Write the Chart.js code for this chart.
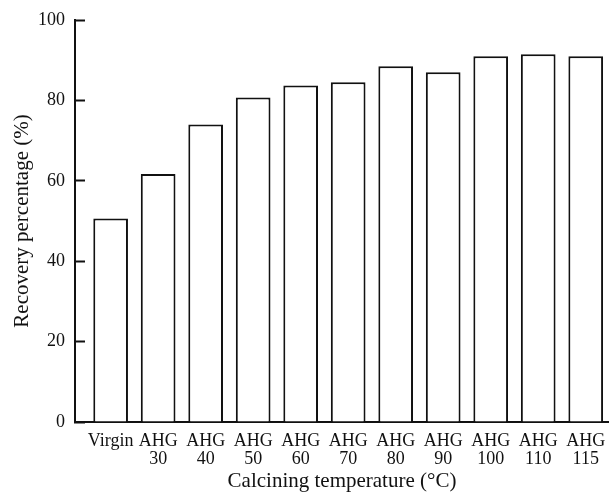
<!DOCTYPE html>
<html>
<head>
<meta charset="utf-8">
<script src="https://cdn.jsdelivr.net/npm/chart.js@4/dist/chart.umd.min.js"></script>
<style>
  html, body { margin: 0; padding: 0; background: #fff; }
  #wrap { width: 609px; height: 494px; }
</style>
</head>
<body>
<div id="wrap"><canvas id="c" width="609" height="494"></canvas></div>
<script>
// Sample groups along the x axis (one label line per array entry)
const categories = [
  ['Virgin'],
  ['AHG', '30'], ['AHG', '40'], ['AHG', '50'], ['AHG', '60'], ['AHG', '70'],
  ['AHG', '80'], ['AHG', '90'], ['AHG', '100'], ['AHG', '110'], ['AHG', '115']
];
// Recovery percentage (%) for each sample
const recovery = [50.6, 61.7, 74.0, 80.7, 83.7, 84.5, 88.5, 87.0, 91.0, 91.5, 91.0];
// Y axis tick values
const yTicks = [0, 20, 40, 60, 80, 100];

const SERIF = '"Liberation Serif", "Times New Roman", serif';
const TICK_FONT = { family: SERIF, size: 18 };
const TITLE_FONT = { family: SERIF, size: 21 };
const INK = '#111';

const points = recovery.map((v, i) => ({ x: i, y: v }));

new Chart(document.getElementById('c'), {
  type: 'bar',
  data: {
    datasets: [{
      data: points,
      backgroundColor: '#fff',
      borderColor: INK,
      borderWidth: 2,
      categoryPercentage: 1,
      barPercentage: 0.73
    }]
  },
  options: {
    responsive: false,
    animation: false,
    layout: { padding: { top: 20, right: 0, left: 0, bottom: 0 } },
    plugins: { legend: { display: false }, tooltip: { enabled: false } },
    scales: {
      x: {
        type: 'linear',
        offset: false,
        min: -0.75,
        max: 10.49,
        afterBuildTicks: (scale) => { scale.ticks = categories.map((_, i) => ({ value: i })); },
        afterFit: (scale) => {
          scale.height = 72;
          scale.paddingLeft = 0;
          scale.paddingRight = 0;
        },
        grid: { display: true, offset: false, drawOnChartArea: false, drawTicks: false },
        border: { display: true, color: INK, width: 2 },
        ticks: {
          autoSkip: false,
          maxRotation: 0,
          padding: 10,
          color: INK,
          font: { ...TICK_FONT, lineHeight: 1.0 },
          callback: (v) => categories[v]
        },
        title: {
          display: true,
          text: 'Calcining temperature (°C)',
          color: INK,
          font: TITLE_FONT,
          padding: { top: 1, bottom: 0 }
        }
      },
      y: {
        min: 0,
        max: 100,
        afterBuildTicks: (scale) => { scale.ticks = yTicks.map(v => ({ value: v })); },
        afterFit: (scale) => {
          scale.width = 75;
          scale.paddingTop = 0;
          scale.paddingBottom = 0;
        },
        grid: {
          drawOnChartArea: false,
          drawTicks: true,
          tickLength: -10,
          tickWidth: 2,
          tickColor: INK
        },
        border: { display: true, color: INK, width: 2 },
        ticks: {
          padding: 20,
          color: INK,
          font: TICK_FONT
        },
        title: {
          display: true,
          text: 'Recovery percentage (%)',
          color: INK,
          font: TITLE_FONT,
          padding: { top: 10, bottom: 0 }
        }
      }
    }
  }
});
</script>
</body>
</html>
